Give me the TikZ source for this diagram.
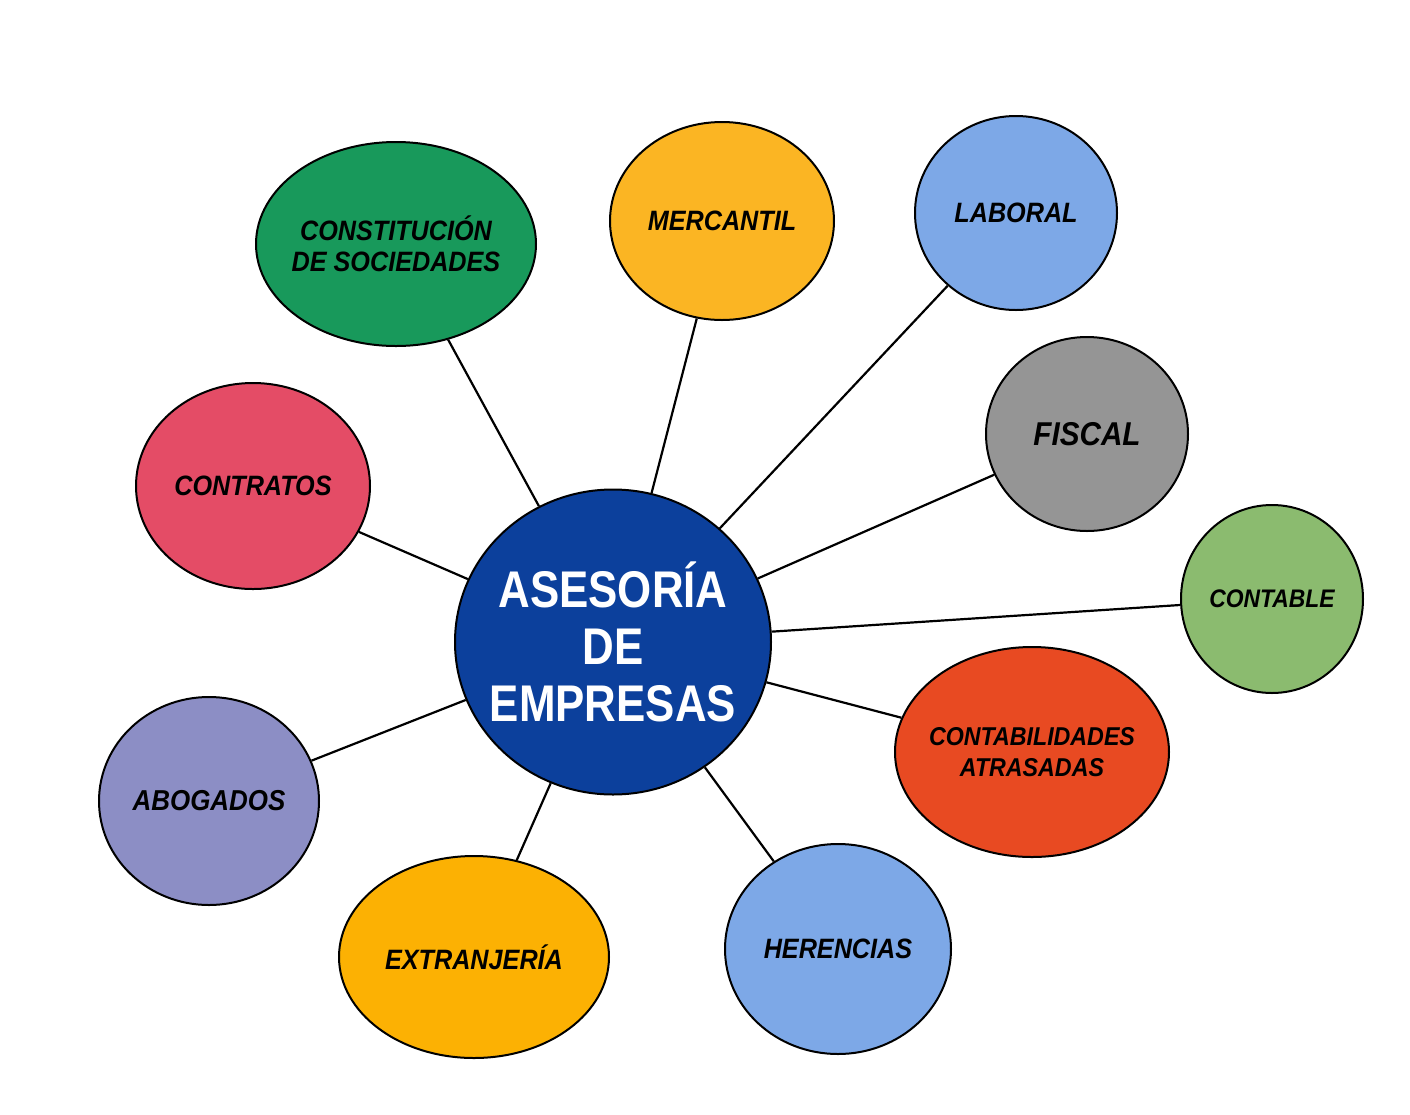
\documentclass[tikz,border=0pt]{standalone}
\usepackage{fontspec}
\setmainfont{Liberation Sans}
\newfontfamily\hubfont{Liberation Sans}[FakeStretch=0.85]
\newfontfamily\topicfont{Liberation Sans}[FakeStretch=0.9]
\usepackage{xcolor}
\usepackage{tikz}
\usetikzlibrary{shapes.geometric, positioning}
\definecolor{hubblue}{HTML}{0C409C}
\definecolor{socgreen}{HTML}{18995B}
\definecolor{merorange}{HTML}{FBB523}
\definecolor{lightblue}{HTML}{7DA8E7}
\definecolor{fisgray}{HTML}{959595}
\definecolor{congreen}{HTML}{8BBB6F}
\definecolor{atrred}{HTML}{E84A22}
\definecolor{extorange}{HTML}{FCB103}
\definecolor{abolav}{HTML}{8C8EC5}
\definecolor{conpink}{HTML}{E44C66}
\tikzstyle{hub} = [ellipse, draw=black, line width=1pt, fill=hubblue, text=white, inner sep=0pt, inner xsep=-6pt, minimum width=158pt, minimum height=152.5pt, align=center, font=\hubfont\bfseries\fontsize{25.8}{28.5}\selectfont]
\tikzstyle{topic} = [ellipse, draw=black, line width=1pt, inner sep=0pt, align=center, text=black, font=\topicfont\bfseries\itshape\fontsize{14}{15.5}\selectfont]
\tikzstyle{link} = [line width=1.1pt]

\begin{document}
\begin{tikzpicture}[x=0.5pt, y=-0.5pt]
	\useasboundingbox (0,0) rectangle (1410,1115);
	
	% Nodes
	\node (hub) [hub] at (613,642) {ASESORÍA\\DE\\EMPRESAS};
	\node (sociedades) [topic, fill=socgreen, minimum width=140pt, minimum height=102pt, inner xsep=-8pt] at (396,244) {CONSTITUCIÓN\\DE SOCIEDADES};
	\node (mercantil) [topic, fill=merorange, minimum width=112pt, minimum height=99pt] at (722,221) {MERCANTIL};
	\node (laboral) [topic, fill=lightblue, minimum width=101pt, minimum height=97pt] at (1016,213) {LABORAL};
	\node (fiscal) [topic, fill=fisgray, minimum width=101pt, minimum height=97pt, font=\topicfont\bfseries\itshape\fontsize{16.5}{18}\selectfont] at (1087,434) {FISCAL};
	\node (contable) [topic, fill=congreen, minimum width=91pt, minimum height=94pt, font=\topicfont\bfseries\itshape\fontsize{12.7}{15.5}\selectfont] at (1272,599) {CONTABLE};
	\node (atrasadas) [topic, fill=atrred, minimum width=137pt, minimum height=105pt, inner xsep=-6pt, font=\topicfont\bfseries\itshape\fontsize{12.9}{15.5}\selectfont] at (1032,752) {CONTABILIDADES\\ATRASADAS};
	\node (herencias) [topic, fill=lightblue, minimum width=113pt, minimum height=105pt] at (838,949) {HERENCIAS};
	\node (extranjeria) [topic, fill=extorange, minimum width=135pt, minimum height=101pt] at (474,957) {EXTRANJERÍA};
	\node (abogados) [topic, fill=abolav, minimum width=110pt, minimum height=104pt, font=\topicfont\bfseries\itshape\fontsize{14.4}{15.5}\selectfont] at (209,801) {ABOGADOS};
	\node (contratos) [topic, fill=conpink, minimum width=117pt, minimum height=103pt] at (253,486) {CONTRATOS};
	
	% Lines
	\draw [link] (hub) -- (sociedades);
	\draw [link] (hub) -- (mercantil);
	\draw [link] (hub) -- (laboral);
	\draw [link] (hub) -- (fiscal);
	\draw [link] (hub) -- (contable);
	\draw [link] (hub) -- (atrasadas);
	\draw [link] (hub) -- (herencias);
	\draw [link] (hub) -- (extranjeria);
	\draw [link] (hub) -- (abogados);
	\draw [link] (hub) -- (contratos);
	
\end{tikzpicture}
\end{document}
